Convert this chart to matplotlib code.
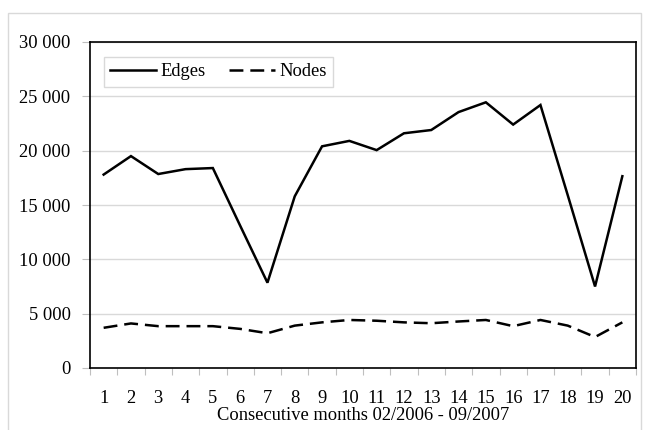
import matplotlib
matplotlib.use("Agg")
import matplotlib.pyplot as plt
from matplotlib.ticker import FuncFormatter, FixedLocator
from matplotlib.patches import Rectangle

months = list(range(1, 21))
edges = [17800, 19500, 17850, 18300, 18400, 13100, 7850, 15800, 20400, 20900,
         20050, 21600, 21900, 23550, 24450, 22400, 24200, 15900, 7500, 17650]
nodes = [3700, 4100, 3850, 3850, 3850, 3600, 3200, 3900, 4200, 4420,
         4350, 4200, 4120, 4280, 4420, 3850, 4420, 3900, 2850, 4200]
yticks = [0, 5000, 10000, 15000, 20000, 25000, 30000]
xlabel = "Consecutive months 02/2006 - 09/2007"

plt.rcParams['font.family'] = ['Liberation Serif', 'DejaVu Serif']
plt.rcParams['lines.scale_dashes'] = False
FS = 13.3

fig = plt.figure(figsize=(6.47, 4.30), dpi=100)
fig.patches.append(Rectangle((8/647, -0.1), (641-8)/647, 1.1 - 13/430,
                             transform=fig.transFigure, fill=False,
                             edgecolor='#d9d9d9', linewidth=1.0))
ax = fig.add_axes([90/647, (430-368)/430, (636-90)/647, (368-42)/430])

ax.plot(months, edges, color='black', lw=1.8, label='Edges', solid_joinstyle='miter')
ax.plot(months, nodes, color='black', lw=1.8, label='Nodes', dashes=(10, 5))

ax.set_xlim(0.5, 20.5)
ax.set_ylim(0, 30000)
ax.set_yticks(yticks)
ax.yaxis.set_major_formatter(FuncFormatter(lambda v, p: f"{int(v):,}".replace(",", " ")))
ax.set_xticks(months)
ax.set_xticklabels([str(m) for m in months])
ax.xaxis.set_minor_locator(FixedLocator([m + 0.5 for m in range(0, 21)]))

ax.tick_params(axis='x', which='major', length=0, pad=16, labelsize=FS)
ax.tick_params(axis='x', which='minor', length=5, width=0.8, color='#bfbfbf', direction='out')
ax.tick_params(axis='y', which='major', length=6, width=0.8, color='#bfbfbf', pad=8, labelsize=FS)

ax.grid(axis='y', color='#d9d9d9', lw=1.0)
ax.set_axisbelow(True)
for s in ax.spines.values():
    s.set_color('black')
    s.set_linewidth(1.2)

fig.text(363/647, 1 - 415/430, xlabel, fontsize=FS, ha='center', va='center')

leg = ax.legend(loc='upper left', bbox_to_anchor=(0.025, 0.954), borderaxespad=0,
                ncol=2, fontsize=FS, frameon=True, fancybox=False,
                edgecolor='#d0d0d0', handlelength=2.5, handletextpad=0.2,
                columnspacing=1.3, borderpad=0.35)
leg.get_frame().set_linewidth(1.0)

fig.savefig("out.png", dpi=100)
